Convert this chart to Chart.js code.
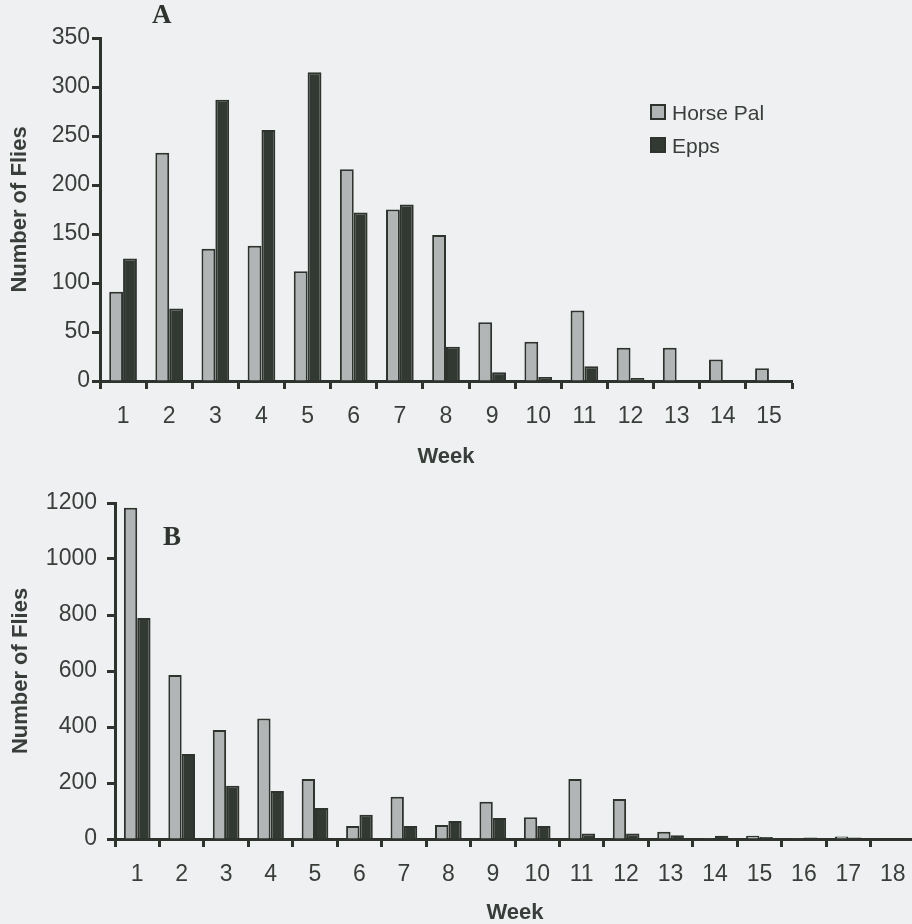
<!DOCTYPE html>
<html>
<head>
  <meta charset="UTF-8">
  <title>Flies per week</title>
  <script src="https://cdn.jsdelivr.net/npm/chart.js"></script>
  <style>
    html, body {
      margin: 0;
      padding: 0;
      width: 912px;
      height: 924px;
      overflow: hidden;
      background-color: #eef0f1;
      font-family: "Liberation Sans", Arial, sans-serif;
      color: #3a3e3a;
    }

    canvas {
      position: absolute;
      left: 0;
    }

    #chartA { top: 0; }
    #chartB { top: 470px; }

    .panel {
      position: absolute;
      font-family: "Liberation Serif", "Times New Roman", serif;
      font-weight: bold;
      font-size: 27px;
      line-height: 1;
      color: #2f342f;
    }

    .legend {
      position: absolute;
      left: 650px;
      top: 96px;
      font-size: 21px;
      line-height: 33px;
    }

    .legend span {
      display: inline-block;
      width: 12px;
      height: 12px;
      border: 2px solid #2e332e;
      margin-right: 6px;
    }
  </style>
</head>
<body>

  <canvas id="chartA" width="912" height="470"></canvas>
  <canvas id="chartB" width="930" height="454"></canvas>

  <div class="panel" style="left:152px; top:1px;">A</div>
  <div class="panel" style="left:163px; top:523px;">B</div>

  <div class="legend">
    <div><span style="background:#b1b5b5"></span>Horse Pal</div>
    <div><span style="background:#323832"></span>Epps</div>
  </div>

  <script>
    // panel A
    const weeksA = ['1','2','3','4','5','6','7','8','9','10','11','12','13','14','15'];
    const horsePalA = [91, 233, 135, 138, 112, 216, 175, 149, 60, 40, 72, 34, 34, 22, 13];
    const eppsA = [125, 74, 287, 256, 315, 172, 180, 35, 9, 4, 15, 3, 0, 0, 0];

    // panel B
    const weeksB = ['1','2','3','4','5','6','7','8','9','10','11','12','13','14','15','16','17','18'];
    const horsePalB = [1183, 586, 389, 430, 214, 46, 151, 50, 133, 78, 214, 143, 26, 3, 12, 3, 9, 1];
    const eppsB = [789, 304, 190, 171, 111, 87, 46, 64, 75, 46, 20, 20, 13, 12, 7, 5, 5, 1];

    const ink = '#2e332e';
    const textCol = '#3a3e3a';
    const greyFill = '#b1b5b5';
    const darkFill = '#323832';

    function makeChart(id, labels, hp, ep, opt) {
      return new Chart(document.getElementById(id), {
        type: 'bar',
        data: {
          labels: labels,
          datasets: [
            {
              label: 'Horse Pal',
              data: hp,
              backgroundColor: greyFill,
              borderColor: ink,
              borderWidth: 2,
              categoryPercentage: 0.6,
              barPercentage: 1.0
            },
            {
              label: 'Epps',
              data: ep,
              backgroundColor: darkFill,
              borderColor: ink,
              borderWidth: 2,
              categoryPercentage: 0.6,
              barPercentage: 1.0
            }
          ]
        },
        options: {
          responsive: false,
          animation: false,
          layout: {
            padding: { top: opt.top, right: opt.right, left: 0, bottom: 0 }
          },
          plugins: {
            legend: { display: false },
            tooltip: { enabled: false }
          },
          scales: {
            x: {
              afterFit: s => { s.height = opt.xHeight; },
              grid: {
                offset: true,
                drawOnChartArea: false,
                tickLength: 8,
                tickWidth: 3,
                tickColor: ink
              },
              border: { display: true, width: 3, color: ink },
              ticks: {
                color: textCol,
                padding: 14,
                font: { family: 'Liberation Sans', size: 23 }
              },
              title: {
                display: true,
                text: 'Week',
                color: textCol,
                padding: { top: 0, bottom: opt.xTitlePad },
                font: { family: 'Liberation Sans', size: 22, weight: 'bold', lineHeight: 1 }
              }
            },
            y: {
              min: 0,
              max: opt.max,
              afterFit: s => { s.width = opt.yWidth; },
              grid: {
                drawOnChartArea: false,
                tickLength: 8,
                tickWidth: 3,
                tickColor: ink
              },
              border: { display: true, width: 3, color: ink },
              ticks: {
                stepSize: opt.step,
                color: textCol,
                padding: opt.yTickPad,
                callback: v => String(v),
                font: { family: 'Liberation Sans', size: 23 }
              },
              title: {
                display: true,
                text: 'Number of Flies',
                color: textCol,
                padding: { top: opt.yTitlePad, bottom: 0 },
                font: { family: 'Liberation Sans', size: 22, weight: 'bold', lineHeight: 1 }
              }
            }
          }
        }
      });
    }

    makeChart('chartA', weeksA, horsePalA, eppsA, {
      top: 38, right: 120, xHeight: 89, yWidth: 100,
      max: 350, step: 50, yTickPad: 2, yTitlePad: 9, xTitlePad: 2
    });

    makeChart('chartB', weeksB, horsePalB, eppsB, {
      top: 33, right: 15, xHeight: 85, yWidth: 115,
      max: 1200, step: 200, yTickPad: 10, yTitlePad: 10, xTitlePad: 0
    });
  </script>

</body>
</html>
